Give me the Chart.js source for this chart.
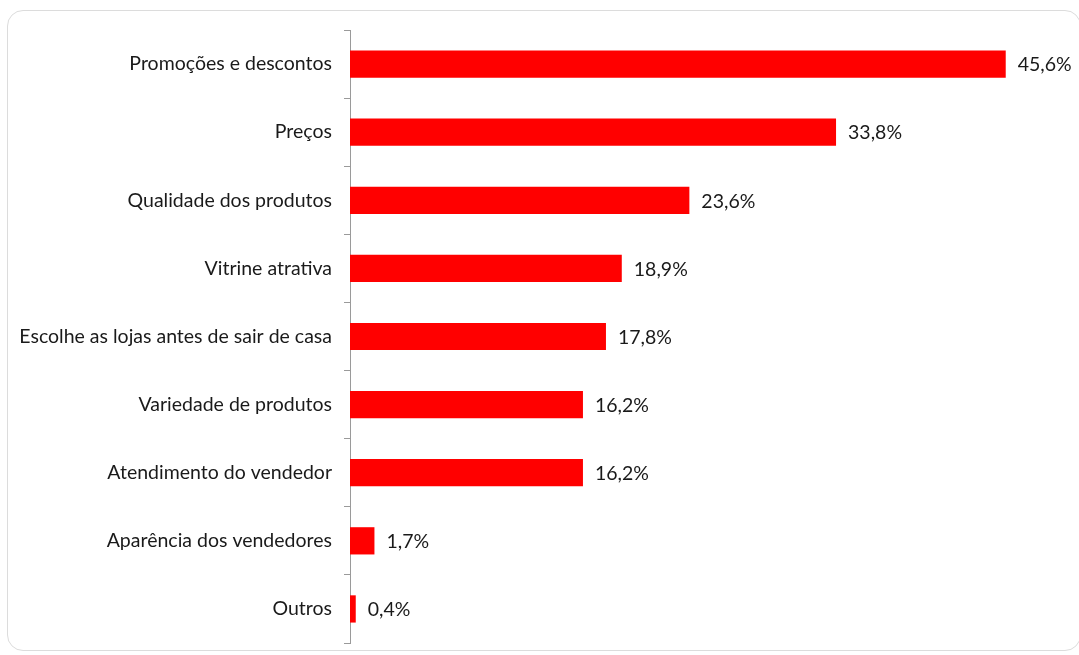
<!DOCTYPE html>
<html>
<head>
<meta charset="utf-8">
<script src="https://cdn.jsdelivr.net/npm/chart.js@4.4.1/dist/chart.umd.min.js"></script>
<style>
  html, body { margin: 0; padding: 0; background: #fff; }
  #wrap { position: relative; width: 1079px; height: 655px; }
  #frame {
    position: absolute; left: 7px; top: 10px; width: 1074px; height: 641px;
    border: 1px solid #dcdcdc; border-radius: 16px; box-sizing: border-box;
  }
  canvas { position: absolute; left: 0; top: 0; }
</style>
</head>
<body>
<div id="wrap">
  <div id="frame"></div>
  <canvas id="chart" width="1079" height="655"></canvas>
</div>
<script>
// categories and values (percent)
const categories = [
  "Promoções e descontos",
  "Preços",
  "Qualidade dos produtos",
  "Vitrine atrativa",
  "Escolhe as lojas antes de sair de casa",
  "Variedade de produtos",
  "Atendimento do vendedor",
  "Aparência dos vendedores",
  "Outros",
];
const values = [45.6, 33.8, 23.6, 18.9, 17.8, 16.2, 16.2, 1.7, 0.4];

const FONT = "Lato, 'Open Sans', sans-serif";

// draws the value next to every bar, e.g. "45,6%"
const valueLabels = {
  id: "valueLabels",
  afterDatasetsDraw(chart) {
    const ctx = chart.ctx;
    const meta = chart.getDatasetMeta(0);
    ctx.save();
    ctx.font = "19.5px " + FONT;
    ctx.fillStyle = "#1a1a1a";
    ctx.textBaseline = "middle";
    ctx.textAlign = "left";
    meta.data.forEach((bar, i) => {
      const txt = values[i].toFixed(1).replace(".", ",") + "%";
      ctx.fillText(txt, bar.x + 12, bar.y + 1);
    });
    ctx.restore();
  },
};

new Chart(document.getElementById("chart"), {
  type: "bar",
  data: {
    labels: categories,
    datasets: [
      {
        data: values,
        backgroundColor: "#ff0000",
        borderWidth: 0,
        barPercentage: 0.4,
        categoryPercentage: 1.0,
      },
    ],
  },
  options: {
    indexAxis: "y",
    responsive: false,
    animation: false,
    layout: { padding: { top: 30, bottom: 12, left: 0, right: 10 } },
    plugins: {
      legend: { display: false },
      tooltip: { enabled: false },
    },
    scales: {
      x: {
        display: false,
        min: 0,
        max: 50,
      },
      y: {
        afterFit(scale) {
          scale.width = 350;
          // labels sit inside their bands, no extra room needed above/below
          scale.paddingTop = 0;
          scale.paddingBottom = 0;
        },
        offset: true,
        grid: {
          offset: true,
          drawOnChartArea: false,
          drawTicks: true,
          tickLength: 6,
          color: "#9a9a9a",
        },
        border: { display: true, color: "#9a9a9a", width: 1 },
        ticks: {
          padding: 12,
          color: "#1a1a1a",
          font: { family: FONT, size: 19.5 },
        },
      },
    },
  },
  plugins: [valueLabels],
});
</script>
</body>
</html>
